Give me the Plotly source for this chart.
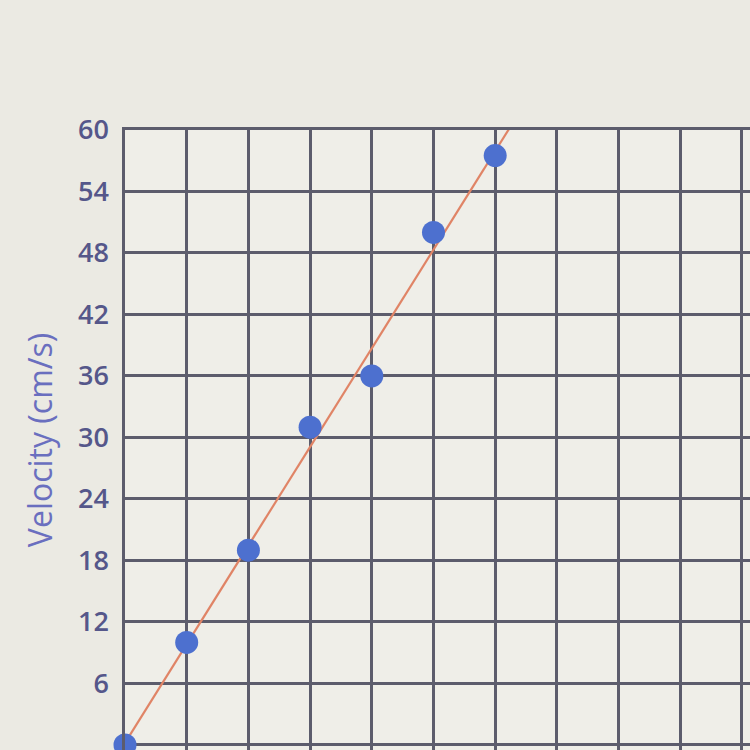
import numpy as np
import plotly.graph_objects as go

time_s = [0, 1, 2, 3, 4, 5, 6]
velocity = [0, 10, 19, 31, 36, 50, 57.5]
y_ticks = [0, 6, 12, 18, 24, 30, 36, 42, 48, 54, 60]

slope, intercept = np.polyfit(time_s, velocity, 1)
fit_x = np.array([0.0, 6.4])
fit_y = slope * fit_x + intercept

fig = go.Figure()
fig.add_trace(go.Scatter(x=fit_x, y=fit_y, mode="lines",
                         line=dict(color="#e08466", width=2.2), showlegend=False))
fig.add_trace(go.Scatter(x=time_s, y=velocity, mode="markers",
                         marker=dict(color="#4d70cf", size=23, line=dict(width=0)),
                         cliponaxis=False, showlegend=False))

fig.update_layout(
    width=750, height=750,
    margin=dict(l=125, r=0, t=130, b=0),
    paper_bgcolor="#ebeae3", plot_bgcolor="#efeee8",
    font=dict(family="Open Sans", color="#55578a"),
)
fig.update_xaxes(range=[0, 10.13], dtick=1, showgrid=True, gridcolor="#5c5c6c",
                 gridwidth=2.5, showticklabels=False, zeroline=False,
                 showline=True, linecolor="#5c5c6c", linewidth=2.5, mirror=True)
fig.update_yaxes(range=[-0.5, 60], tickvals=y_ticks, showgrid=True,
                 gridcolor="#5c5c6c", gridwidth=2.5, zeroline=False,
                 showline=True, linecolor="#5c5c6c", linewidth=2.5, mirror=False,
                 ticks="outside", ticklen=8, tickcolor="rgba(0,0,0,0)",
                 tickfont=dict(size=27, color="#55578a", weight=600),
                 title=dict(text="Velocity (cm/s)", standoff=16,
                            font=dict(size=32, color="#6a6fbf")))

fig.write_html("out.html", config={"displayModeBar": False},
               post_script="document.body.style.margin='0';document.body.style.background='#ebeae3';")
